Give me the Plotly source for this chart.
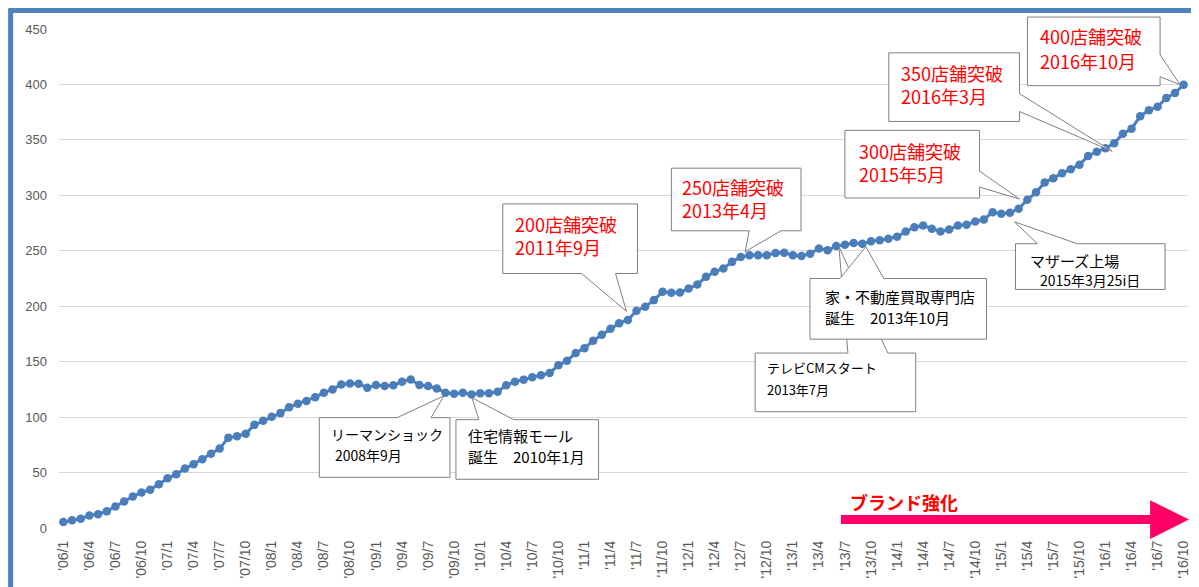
import plotly.graph_objects as go

# ---------------- data ----------------
years = list(range(2006, 2017))
months = [f"'{y % 100:02d}/{m}" for y in years for m in range(1, 13)][:130]  # '06/1 .. '16/10

stores = [
    5.4, 6.9, 8.4, 11.3, 12.5, 15.0, 19.4, 23.9, 28.4, 32.0, 34.6, 39.4,
    44.8, 48.4, 53.7, 57.6, 62.0, 67.0, 71.6, 81.5, 82.7, 85.0, 93.0, 96.7,
    100.3, 103.6, 109.0, 112.0, 114.6, 118.0, 122.0, 125.0, 129.5, 130.4, 130.0, 126.5,
    129.0, 128.0, 128.8, 131.8, 134.0, 129.0, 128.0, 125.8, 122.0, 121.0, 121.9, 120.5,
    121.5, 121.5, 122.8, 128.8, 131.8, 133.8, 136.0, 137.8, 139.8, 146.7, 150.9, 157.8,
    162.2, 168.8, 174.2, 179.6, 184.7, 187.6, 196.0, 199.5, 205.5, 213.0, 212.2, 212.4,
    216.0, 219.6, 226.5, 231.0, 234.0, 240.0, 244.4, 246.0, 246.0, 246.0, 248.0, 248.3,
    246.0, 245.3, 247.4, 252.0, 250.4, 254.3, 255.5, 257.0, 256.4, 258.5, 259.4, 260.8,
    262.6, 267.4, 271.3, 272.8, 269.8, 267.4, 269.2, 272.8, 273.4, 276.4, 278.2, 284.8,
    283.3, 284.2, 288.0, 296.0, 302.7, 311.6, 315.5, 320.0, 323.6, 327.5, 335.5, 339.4,
    342.4, 346.9, 355.6, 360.0, 371.4, 376.8, 379.8, 387.8, 392.3, 399.8,
]

tick_labels = months[::3]
y_ticks = [0, 50, 100, 150, 200, 250, 300, 350, 400, 450]

# ---------------- layout geometry ----------------
# The page body has an 8px margin, so the figure is drawn 8px right/down.
OFF = 8
W_FIG, H_FIG = 1199 - OFF, 587 - OFF
PL, PT = 59, 29            # plot-area top-left in page pixels
PW, PH = 1132, 502         # plot-area size
L, T = PL - OFF, PT - OFF
R = W_FIG - L - PW
B = H_FIG - T - PH


def px(x):
    return (x - PL) / PW


def py(y):
    return (PT + PH - y) / PH


def poly(points):
    return "M " + " L ".join(f"{px(x):.5f},{py(y):.5f}" for x, y in points) + " Z"


fig = go.Figure()
fig.add_trace(go.Scatter(
    x=months, y=stores, mode="lines+markers",
    line=dict(color="#4A7EBB", width=3),
    marker=dict(color="#4A7EBB", size=8.5),
    showlegend=False, hoverinfo="x+y",
))

shapes = []
# blue chart border (cropped by the window)
shapes.append(dict(type="line", xref="paper", yref="paper",
                   x0=px(10.5), x1=px(10.5), y0=py(8.5), y1=py(600),
                   line=dict(color="#4F81BD", width=5)))
shapes.append(dict(type="line", xref="paper", yref="paper",
                   x0=px(8.5), x1=px(1210), y0=py(10.5), y1=py(10.5),
                   line=dict(color="#4F81BD", width=5)))

callouts = [
    [(320, 420), (398, 420), (445, 398), (432, 420), (451, 420), (451, 480), (320, 480)],
    [(457, 422), (480, 422), (473, 400), (515, 422), (600, 422), (600, 482), (457, 482)],
    [(504, 205), (639, 205), (639, 275), (617, 275), (628, 313), (583, 275), (504, 275)],
    [(673, 169), (803, 169), (803, 232), (783, 232), (747, 253), (751, 232), (673, 232)],
    [(757, 355), (850, 355), (841, 248), (890, 355), (918, 355), (918, 414), (757, 414)],
    [(812, 280), (842, 280), (868, 248), (886, 280), (989, 280), (989, 341), (812, 341)],
    [(847, 131), (982, 131), (982, 172), (1022, 200), (982, 188), (982, 199), (847, 199)],
    [(891, 53), (1022, 53), (1022, 94), (1115, 152), (1022, 112), (1022, 122), (891, 122)],
    [(1030, 17), (1163, 17), (1163, 55), (1183, 85), (1163, 77), (1163, 86), (1030, 86)],
    [(1018, 245), (1040, 245), (1017, 223), (1080, 245), (1168, 245), (1168, 291), (1018, 291)],
]
for pts in callouts:
    shapes.append(dict(type="path", xref="paper", yref="paper", path=poly(pts),
                       fillcolor="white", line=dict(color="#7F7F7F", width=1),
                       layer="above"))

# brand arrow
shapes.append(dict(type="path", xref="paper", yref="paper",
                   path=poly([(843, 518), (1153, 518), (1153, 503), (1192, 522.5),
                              (1153, 542), (1153, 527), (843, 527)]),
                   fillcolor="#FF0066", line=dict(width=0), layer="above"))

FONT = "Noto Sans CJK JP"
RED = "#FF0000"
BLK = "#000000"
texts = [
    (330, 436, "リーマンショック", 14, BLK),
    (334, 458, "2008年9月", 14, BLK),
    (467, 438, "住宅情報モール", 15, BLK),
    (467, 459, "誕生\u30002010年1月", 15, BLK),
    (514, 236.5, "200店舗突破<br>2011年9月", 18, RED),
    (682, 200, "250店舗突破<br>2013年4月", 18, RED),
    (767, 370, "テレビCMスタート", 13, BLK),
    (767, 392, "2013年7月", 13, BLK),
    (825, 298, "家・不動産買取専門店", 15, BLK),
    (825, 319, "誕生\u30002013年10月", 15, BLK),
    (859, 163.5, "300店舗突破<br>2015年5月", 18, RED),
    (901, 85, "350店舗突破<br>2016年3月", 18, RED),
    (1041, 36, "400店舗突破", 18, RED),
    (1041, 61, "2016年10月", 18, RED),
    (1031, 262, "マザーズ上場", 15, BLK),
    (1041, 282, "2015年3月25i日", 14, BLK),
]
annotations = []
for x, y, t, s, c in texts:
    annotations.append(dict(xref="paper", yref="paper", x=px(x), y=py(y),
                            xanchor="left", yanchor="middle", align="left", text=t,
                            showarrow=False, font=dict(family=FONT, size=s, color=c)))
annotations.append(dict(xref="paper", yref="paper", x=px(850), y=py(505),
                        xanchor="left", yanchor="middle", text="<b>ブランド強化</b>",
                        showarrow=False, font=dict(family=FONT, size=18, color=RED)))

fig.update_layout(
    width=W_FIG, height=H_FIG,
    margin=dict(l=L, r=R, t=T, b=B, pad=0),
    paper_bgcolor="white", plot_bgcolor="white",
    shapes=shapes, annotations=annotations,
    font=dict(family="Liberation Sans", color="#595959", size=13),
    xaxis=dict(
        type="category", range=[-0.5, len(months) - 0.5],
        tickmode="array", tickvals=tick_labels, ticktext=tick_labels,
        tickangle=-90, showgrid=False, showline=False, zeroline=False,
        ticks="", ticklabelstandoff=9,
        tickfont=dict(family="Liberation Sans", size=14, color="#595959"),
    ),
    yaxis=dict(
        range=[0, 450], tickvals=y_ticks, showgrid=True, gridcolor="#D9D9D9",
        gridwidth=1, zeroline=False, showline=False, ticks="",
        ticklabelstandoff=11,
        tickfont=dict(family="Liberation Sans", size=13, color="#595959"),
    ),
)

fig.write_html("out.html")
